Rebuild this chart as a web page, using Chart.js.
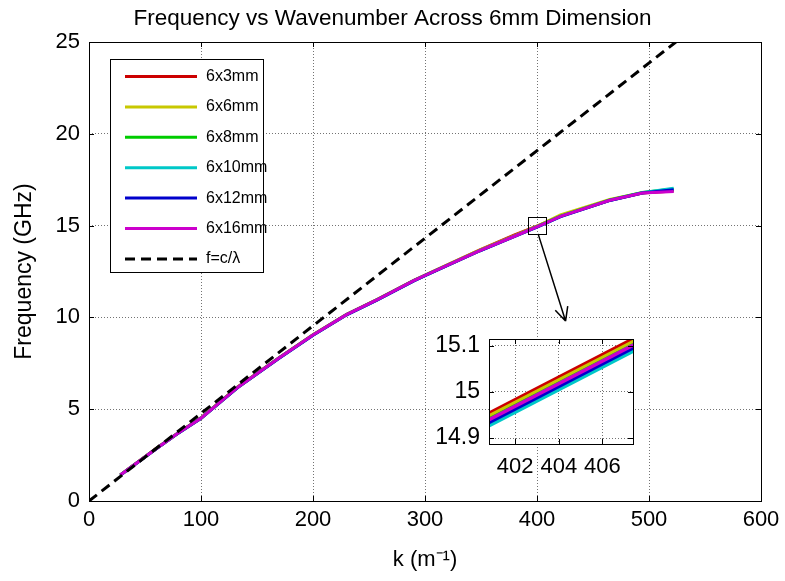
<!DOCTYPE html>
<html>
<head>
<meta charset="utf-8">
<script src="https://cdn.jsdelivr.net/npm/chart.js@4.4.0/dist/chart.umd.min.js"></script>
<style>
  body { margin: 0; background: #fff; }
  #wrap { position: relative; width: 785px; height: 581px; }
  #main { position: absolute; left: 0; top: 0; }
  #insetBox { position: absolute; left: 420px; top: 330px; width: 230px; height: 150px; }
</style>
</head>
<body>
<div id="wrap">
  <canvas id="main" width="785" height="581"></canvas>
  <div id="insetBox"><canvas id="inset" width="230" height="150"></canvas></div>
</div>
<script>
// wavenumber samples (m^-1) shared by all six waveguide curves
const kVals   = [28, 60, 80, 100, 133, 170, 200, 230, 257, 290, 301, 349, 380, 401, 421, 465, 494, 522];
const f6x3    = [1.42, 2.86, 3.73, 4.53, 6.22, 7.82, 9.06, 10.17, 10.97, 12.02, 12.33, 13.68, 14.50, 15.00, 15.52, 16.38, 16.77, 16.88];
const f6x6    = [1.42, 2.86, 3.72, 4.52, 6.21, 7.81, 9.05, 10.16, 10.96, 12.01, 12.32, 13.66, 14.46, 14.98, 15.58, 16.43, 16.79, 16.92];
const f6x8    = [1.42, 2.85, 3.72, 4.51, 6.20, 7.80, 9.04, 10.15, 10.95, 12.00, 12.31, 13.64, 14.43, 14.97, 15.52, 16.40, 16.80, 17.00];
const f6x10   = [1.41, 2.84, 3.71, 4.50, 6.19, 7.79, 9.03, 10.14, 10.94, 11.99, 12.30, 13.63, 14.41, 14.95, 15.49, 16.37, 16.79, 17.03];
const f6x12   = [1.41, 2.85, 3.71, 4.50, 6.19, 7.79, 9.03, 10.14, 10.94, 11.99, 12.30, 13.63, 14.41, 14.95, 15.49, 16.37, 16.78, 16.95];
const f6x16   = [1.42, 2.85, 3.72, 4.51, 6.20, 7.80, 9.04, 10.15, 10.95, 12.00, 12.31, 13.64, 14.42, 14.96, 15.50, 16.38, 16.77, 16.86];
// light line f = c/lambda
const lightK  = [0, 524];
const lightF  = [0, 25];
const xTicks  = [0, 100, 200, 300, 400, 500, 600];
const yTicks  = [0, 5, 10, 15, 20, 25];

// zoomed inset around k = 404
const insetK      = [400, 408];
const inset6x3    = [14.934, 15.130];
const inset6x6    = [14.928, 15.124];
const inset6x8    = [14.921, 15.117];
const inset6x10   = [14.907, 15.103];
const inset6x12   = [14.914, 15.110];
const inset6x16   = [14.920, 15.116];
const insetXTicks = [402, 404, 406];
const insetYTicks = [14.9, 15, 15.1];

const names  = ['6x3mm', '6x6mm', '6x8mm', '6x10mm', '6x12mm', '6x16mm'];
const colors = ['rgb(204,0,0)', 'rgb(200,200,0)', 'rgb(0,204,0)', 'rgb(0,200,200)', 'rgb(0,0,204)', 'rgb(204,0,204)'];
const FONT = '"Liberation Sans", Arial, sans-serif';

function pts(xs, ys) { return xs.map((x, i) => ({x: x, y: ys[i]})) }

function lineSet(label, xs, ys, color, order) {
  return { label: label, data: pts(xs, ys), borderColor: color, backgroundColor: color,
           borderWidth: 3, pointRadius: 0, tension: 0, order: order }
}

// box round the axes with matlab style inward ticks
const framePlugin = {
  id: 'frame',
  beforeDraw(chart, args, opts) {
    if (!opts.fill) return
    const a = chart.chartArea, ctx = chart.ctx
    ctx.save()
    ctx.fillStyle = '#fff'
    ctx.fillRect(a.left, a.top, a.right - a.left, a.bottom - a.top)
    ctx.restore()
  },
  afterDatasetsDraw(chart, args, opts) {
    const {ctx, chartArea: a, scales: {x, y}} = chart
    const len = opts.tick || 5
    ctx.save()
    ctx.strokeStyle = '#000'
    ctx.lineWidth = 1
    ctx.beginPath()
    x.ticks.forEach(t => {
      const px = Math.round(x.getPixelForValue(t.value)) + 0.5
      ctx.moveTo(px, a.bottom); ctx.lineTo(px, a.bottom - len)
      ctx.moveTo(px, a.top); ctx.lineTo(px, a.top + len)
    })
    y.ticks.forEach(t => {
      const py = Math.round(y.getPixelForValue(t.value)) + 0.5
      ctx.moveTo(a.left, py); ctx.lineTo(a.left + len, py)
      ctx.moveTo(a.right, py); ctx.lineTo(a.right - len, py)
    })
    ctx.stroke()
    ctx.strokeRect(Math.round(a.left) + 0.5, Math.round(a.top) + 0.5,
                   Math.round(a.right - a.left), Math.round(a.bottom - a.top))
    ctx.restore()
  }
}

// legend box, zoom marker and arrow
const extrasPlugin = {
  id: 'extras',
  afterDraw(chart) {
    const {ctx, scales: {x, y}} = chart
    ctx.save()
    // marker square and arrow
    const x0 = x.getPixelForValue(392), x1 = x.getPixelForValue(408)
    const y0 = y.getPixelForValue(15.45), y1 = y.getPixelForValue(14.55)
    ctx.strokeStyle = '#000'
    ctx.lineWidth = 1
    ctx.strokeRect(Math.round(x0) + 0.5, Math.round(y0) + 0.5, Math.round(x1 - x0), Math.round(y1 - y0))
    const ax = x.getPixelForValue(401), ay = y1
    const bx = x.getPixelForValue(425.5), by = y.getPixelForValue(9.8)
    ctx.lineWidth = 1.5
    ctx.beginPath()
    ctx.moveTo(ax, ay); ctx.lineTo(bx, by)
    const ang = Math.atan2(by - ay, bx - ax)
    ctx.moveTo(bx, by); ctx.lineTo(bx - 15 * Math.cos(ang - 0.45), by - 15 * Math.sin(ang - 0.45))
    ctx.moveTo(bx, by); ctx.lineTo(bx - 15 * Math.cos(ang + 0.45), by - 15 * Math.sin(ang + 0.45))
    ctx.stroke()

    // legend
    const L = 110, T = 59, W = 153, H = 213
    ctx.fillStyle = '#fff'
    ctx.fillRect(L, T, W, H)
    ctx.lineWidth = 1
    ctx.strokeRect(L + 0.5, T + 0.5, W, H)
    ctx.font = '16px ' + FONT
    ctx.textBaseline = 'middle'
    chart.data.datasets.forEach((ds, i) => {
      const ry = T + 17.5 + i * 30.4
      ctx.strokeStyle = ds.borderColor
      ctx.lineWidth = 3
      ctx.setLineDash(ds.borderDash || [])
      ctx.beginPath()
      ctx.moveTo(L + 15, ry); ctx.lineTo(L + 87, ry)
      ctx.stroke()
      ctx.setLineDash([])
      ctx.fillStyle = '#000'
      ctx.fillText(ds.label, L + 96, ry)
    })
    ctx.restore()
  }
}

const mainSets = [
  lineSet(names[0], kVals, f6x3,  colors[0], 7),
  lineSet(names[1], kVals, f6x6,  colors[1], 6),
  lineSet(names[2], kVals, f6x8,  colors[2], 5),
  lineSet(names[3], kVals, f6x10, colors[3], 4),
  lineSet(names[4], kVals, f6x12, colors[4], 3),
  lineSet(names[5], kVals, f6x16, colors[5], 2),
  Object.assign(lineSet('f=c/\u03bb', lightK, lightF, '#000', 1), {borderDash: [10, 6]})
]

const gridOpts = { color: 'rgba(0,0,0,0.55)', lineWidth: 1, drawTicks: false }

// keep the label overhang from pushing the plot area around
function fixX(h) { return s => { s.height = h; s.paddingLeft = 0; s.paddingRight = 0 } }
function fixY(w) { return s => { s.width = w; s.paddingTop = 0; s.paddingBottom = 0 } }

new Chart(document.getElementById('main'), {
  type: 'line',
  data: { datasets: mainSets },
  options: {
    responsive: false,
    animation: false,
    layout: { padding: 0 },
    plugins: {
      legend: { display: false },
      tooltip: { enabled: false },
      title: {
        display: true,
        text: 'Frequency vs Wavenumber Across 6mm Dimension',
        color: '#000',
        font: { family: FONT, size: 22.5, weight: 'normal' },
        padding: { top: 5, bottom: 10 }
      },
      frame: { tick: 5 }
    },
    scales: {
      x: {
        type: 'linear', min: 0, max: 600,
        afterBuildTicks: s => { s.ticks = xTicks.map(v => ({value: v})) },
        afterFit: fixX(80),
        grid: gridOpts,
        border: { display: false, dash: [1, 2] },
        ticks: { color: '#000', padding: 6, font: { family: FONT, size: 22 }, maxRotation: 0 },
        title: { display: true, text: 'k (m\u207b\u00b9)', color: '#000', font: { family: FONT, size: 22 }, padding: { bottom: 8 } }
      },
      y: {
        type: 'linear', min: 0, max: 25,
        afterBuildTicks: s => { s.ticks = yTicks.map(v => ({value: v})) },
        afterFit: fixY(89),
        grid: gridOpts,
        border: { display: false, dash: [1, 2] },
        ticks: { color: '#000', padding: 9, font: { family: FONT, size: 22 } },
        title: { display: true, text: 'Frequency (GHz)', color: '#000', font: { family: FONT, size: 23 }, padding: { top: 11 } }
      },
      // empty strip on the right so the title stays centred on the page
      yr: {
        type: 'linear', position: 'right', min: 0, max: 25,
        afterFit: fixY(24),
        grid: { display: false, drawTicks: false },
        border: { display: false },
        ticks: { display: false }
      }
    }
  },
  plugins: [framePlugin, extrasPlugin]
})

const insetSets = [
  lineSet(names[0], insetK, inset6x3,  colors[0], 7),
  lineSet(names[1], insetK, inset6x6,  colors[1], 6),
  lineSet(names[2], insetK, inset6x8,  colors[2], 5),
  lineSet(names[3], insetK, inset6x10, colors[3], 4),
  lineSet(names[4], insetK, inset6x12, colors[4], 3),
  lineSet(names[5], insetK, inset6x16, colors[5], 2)
]
insetSets.forEach(d => { d.borderWidth = 3.5 })

new Chart(document.getElementById('inset'), {
  type: 'line',
  data: { datasets: insetSets },
  options: {
    responsive: false,
    animation: false,
    layout: { padding: { right: 17, top: 9, left: 0, bottom: 0 } },
    plugins: { legend: { display: false }, tooltip: { enabled: false }, frame: { tick: 5, fill: true } },
    scales: {
      x: {
        type: 'linear', min: 400.8, max: 407.4,
        afterBuildTicks: s => { s.ticks = insetXTicks.map(v => ({value: v})) },
        afterFit: fixX(36),
        grid: gridOpts,
        border: { display: false, dash: [1, 2] },
        ticks: { color: '#000', padding: 10, font: { family: FONT, size: 22 }, maxRotation: 0, autoSkip: false }
      },
      y: {
        type: 'linear', min: 14.887, max: 15.115,
        afterBuildTicks: s => { s.ticks = insetYTicks.map(v => ({value: v})) },
        afterFit: fixY(69),
        grid: gridOpts,
        border: { display: false, dash: [1, 2] },
        ticks: { color: '#000', padding: 9, font: { family: FONT, size: 23 }, callback: v => String(+v.toFixed(2)) }
      }
    }
  },
  plugins: [framePlugin]
})
</script>
</body>
</html>
